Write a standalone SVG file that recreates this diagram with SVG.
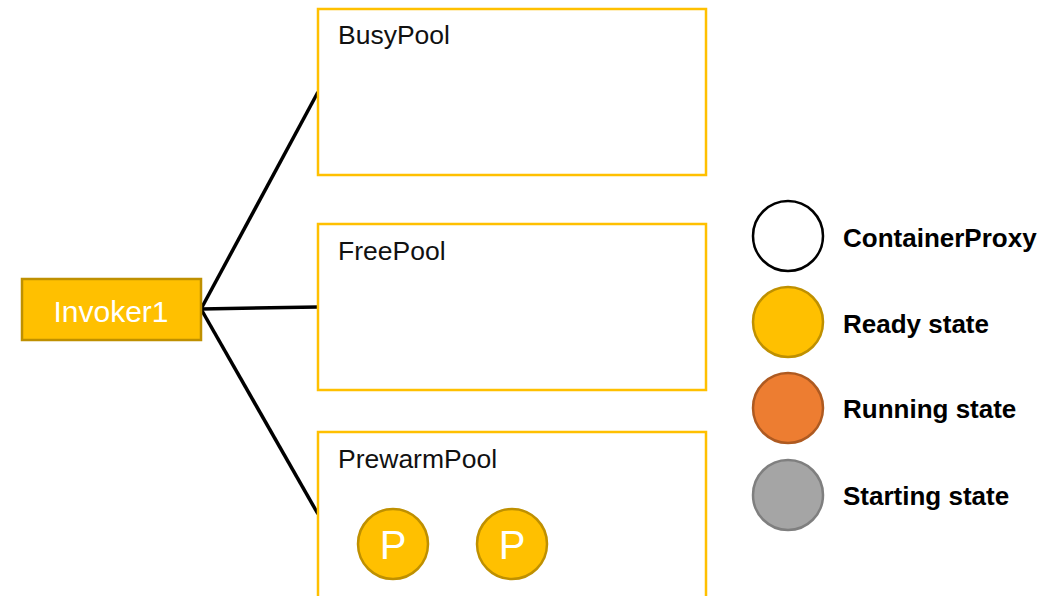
<svg xmlns="http://www.w3.org/2000/svg" width="1063" height="596" viewBox="0 0 1063 596">
<style>
.pool{fill:#fff;stroke:#FFC000;stroke-width:2.5}
.plabel{font-family:"Liberation Sans","Open Sans",sans-serif;font-size:26.5px;fill:#111}
.leg{font-family:"Liberation Sans","Open Sans",sans-serif;font-size:26px;font-weight:bold;fill:#000}
.ready{fill:#FFC000;stroke:#BF9000;stroke-width:2.5}
.conn{stroke:#000;stroke-width:3.5;fill:none}
</style>
<rect width="1063" height="596" fill="#fff"/>
<g id="connectors">
<line class="conn" x1="201" y1="309" x2="318" y2="92"/>
<line class="conn" x1="201" y1="309" x2="318" y2="307"/>
<line class="conn" x1="201" y1="309" x2="318" y2="514"/>
</g>
<g id="busypool">
<rect class="pool" x="318" y="9" width="388" height="166"/>
<text class="plabel" x="338" y="44">BusyPool</text>
</g>
<g id="freepool">
<rect class="pool" x="318" y="224" width="388" height="166"/>
<text class="plabel" x="338" y="260">FreePool</text>
</g>
<g id="prewarmpool">
<path class="pool" d="M318,600 V432 H706 V600"/>
<text class="plabel" x="338" y="468">PrewarmPool</text>
</g>
<g id="p1">
<circle class="ready" cx="393" cy="544" r="35"/>
<text x="393" y="559" text-anchor="middle" font-family="Liberation Sans,sans-serif" font-size="40" fill="#fff">P</text>
</g>
<g id="p2">
<circle class="ready" cx="512" cy="544" r="35"/>
<text x="512" y="559" text-anchor="middle" font-family="Liberation Sans,sans-serif" font-size="40" fill="#fff">P</text>
</g>
<g id="invoker1">
<rect x="22" y="279" width="179" height="61" fill="#FFC000" stroke="#BF9000" stroke-width="2.5"/>
<text x="111" y="322" text-anchor="middle" font-family="Liberation Sans,sans-serif" font-size="30" fill="#fff">Invoker1</text>
</g>
<g id="legend">
<circle cx="788" cy="236" r="35" fill="#fff" stroke="#000" stroke-width="2.5"/>
<text class="leg" x="843" y="247">ContainerProxy</text>
<circle class="ready" cx="788" cy="322" r="35"/>
<text class="leg" x="843" y="333">Ready state</text>
<circle cx="788" cy="408" r="35" fill="#ED7D31" stroke="#AE5A21" stroke-width="2.5"/>
<text class="leg" x="843" y="418">Running state</text>
<circle cx="788" cy="495" r="35" fill="#A5A5A5" stroke="#7F7F7F" stroke-width="2.5"/>
<text class="leg" x="843" y="505">Starting state</text>
</g>
</svg>
